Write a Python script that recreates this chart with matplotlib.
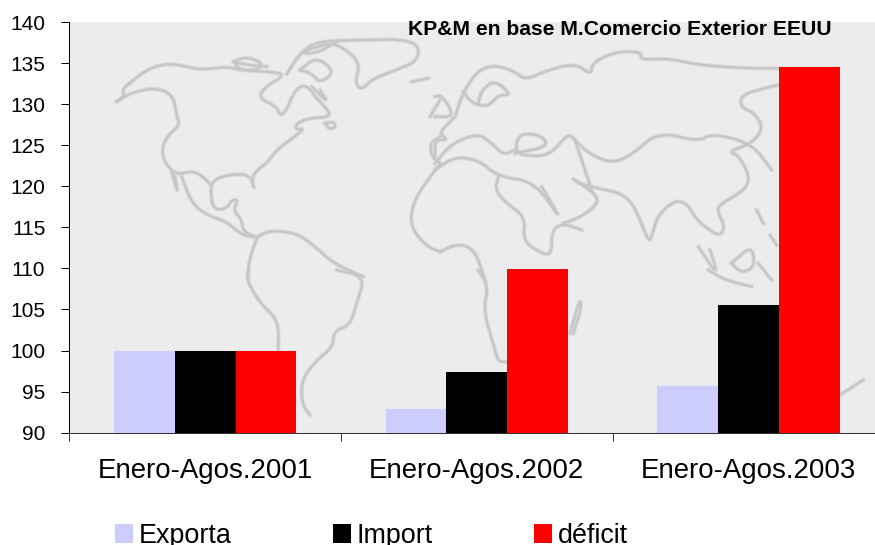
import matplotlib
matplotlib.use('Agg')
import matplotlib.pyplot as plt
import numpy as np
from matplotlib.transforms import Affine2D

categories = ['Enero-Agos.2001', 'Enero-Agos.2002', 'Enero-Agos.2003']
exporta = [100, 92.9, 95.7]
importa = [100, 97.4, 105.6]
deficit = [100, 109.9, 134.5]
y_ticks = list(range(90, 141, 5))

W, H = 875, 545
plt.rcParams['font.family'] = ['Liberation Sans', 'DejaVu Sans']

# background map outlines, traced by eye from 3x crops: (offset x, offset y, points)
map_lines = [
    # north america
    (0, 0, [(350,305),(375,285),(365,270),(400,240),(440,210),(490,192),(540,195),(600,210),(680,200),(720,210),(800,215),(860,222),(790,265),(778,295),(830,320),(840,348),(860,330),(880,280),(905,255),(930,265),(945,290),(975,320),(995,350),(920,355),(885,375),(890,390),(915,385),(870,420),(830,450),(800,490),(765,515),(755,545),(765,570),(750,525),(700,522),(650,535),(632,555),(635,610),(650,630),(680,625),(695,600),(715,600),(700,630),(725,660),(730,695),(770,712)]),
    (0, 0, [(350,305),(390,280),(465,262),(520,285),(530,350),(540,375),(500,410),(485,450),(495,490),(530,525),(575,512),(610,530),(632,555)]),
    (0, 0, [(515,515),(535,585),(525,530)]),
    (0, 0, [(545,530),(575,610),(620,645),(680,665),(725,705),(770,712)]),
    (0, 0, [(700,185),(740,170),(790,190),(770,210),(720,210),(700,185),(745,195),(800,200)]),
    (0, 0, [(860,222),(900,160),(950,125),(1060,120),(1250,118),(1258,180),(1190,210),(1120,235),(1085,270),(1065,250),(1080,190),(1040,150),(1000,130),(950,140),(900,160),(950,160),(1010,125)]),
    (0, 0, [(900,210),(950,170),(1005,215),(960,250),(935,220),(900,210)]),
    (0, 0, [(935,260),(985,310),(960,270)]),
    (0, 0, [(975,370),(1005,365),(1005,385),(985,385),(975,370)]),
    (0, 0, [(1235,245),(1285,235)]),
    (0, 0, [(1290,350),(1320,300)]),
    # south america
    (0, 0, [(745,835),(745,790),(770,712),(790,700),(820,692),(890,700),(940,735),(1000,790),(1090,830)]),
    (0, 270, [(1010,0),(1095,20),(1070,100),(1050,165),(1000,185),(1000,230),(945,275),(905,330),(905,400),(930,435)]),
    (0, 270, [(745,0),(740,30),(780,100),(835,150),(835,240)]),
    # africa
    (0, 0, [(1320,490),(1240,600),(1230,680),(1280,740),(1320,755)]),
    (435, 0, [(15,755),(70,730),(120,750),(150,840)]),
    (435, 270, [(130,0),(160,50),(145,120),(180,240),(190,275),(215,275)]),
    (435, 0, [(190,530),(180,570),(215,610),(270,650),(265,720),(300,750),(350,770),(350,690),(385,670),(440,690)]),
    (435, 270, [(405,190),(435,85),(440,110),(415,190)]),
    # mediterranean, europe
    (435, 0, [(0,510),(60,470),(130,480),(190,530),(300,545),(385,670),(320,560)]),
    (435, 0, [(0,490),(50,430),(130,400),(170,430),(205,465),(240,450)]),
    (435, 0, [(85,275),(110,310),(160,320),(190,285),(230,285),(180,240),(140,270),(130,310)]),
    (435, 0, [(0,290),(20,285),(60,350),(0,350)]),
    (435, 0, [(60,350),(85,275),(130,210),(180,195),(240,215),(270,240),(340,210),(420,190),(470,225),(470,190),(540,155),(620,155),(615,180),(700,175),(790,195),(930,205),(1030,205)]),
    (435, 0, [(60,350),(10,400),(40,420),(0,420),(0,470)]),
    (0, 0, [(1320,410),(1290,430),(1295,470),(1320,490)]),
    # asia
    (435, 0, [(1030,255),(985,265),(920,285),(915,320),(960,340),(985,385),(950,430),(880,455),(910,465),(945,530),(930,570),(860,610),(845,630),(870,680),(855,710),(810,680),(790,665),(740,590),(670,640),(650,710),(640,725),(600,620),(560,580),(490,565),(430,550),(405,530),(480,580),(490,610),(440,650),(385,670)]),
    (435, 0, [(420,420),(460,460),(530,490),(590,465),(670,395),(790,425),(830,400),(950,430),(1010,510)]),
    (435, 0, [(420,420),(400,400),(350,460),(300,470),(240,460),(250,400),(320,405),(340,440),(240,460)]),
    (435, 0, [(420,420),(470,570)]),
    (435, 0, [(790,740),(850,830),(825,750)]),
    (435, 0, [(890,790),(950,735),(960,800),(920,820),(890,790)]),
    (435, 0, [(965,630),(985,670)]),
    (435, 0, [(1005,705),(1025,735)]),
    (435, 0, [(970,790),(1010,840)]),
    (435, 270, [(820,0),(870,30),(950,50)]),
    (435, 270, [(1215,375),(1285,330)]),
]


def round_corners(pts):
    # two passes of corner cutting so the traced outline isn't so angular
    for _ in range(2):
        a, b = pts[:-1], pts[1:]
        mid = np.empty((len(a) * 2, 2))
        mid[0::2] = 0.75 * a + 0.25 * b
        mid[1::2] = 0.25 * a + 0.75 * b
        pts = np.vstack([pts[:1], mid, pts[-1:]])
    return pts


fig = plt.figure(figsize=(W / 100, H / 100), dpi=100)
ax = fig.add_axes([69.3 / W, (H - 432.7) / H, 815 / W, 410.7 / H])
ax.set_facecolor('#ececec')

# map is drawn in image pixels, y going down
to_px = Affine2D().scale(1, -1).translate(0, H)
for ox, oy, pts in map_lines:
    pts = round_corners(np.array(pts) / 3 + [ox, oy])
    ax.plot(pts[:, 0], pts[:, 1], color='#dcdcdc', lw=3.2, transform=to_px, zorder=1)
    ax.plot(pts[:, 0], pts[:, 1], color='#c6c6c6', lw=1.7, transform=to_px, zorder=1.1)

x = np.arange(len(categories))
width = 0.2238
ax.bar(x - width, exporta, width, color='#ccccff', label='Exporta', zorder=2)
ax.bar(x, importa, width, color='black', label='Import', zorder=2)
ax.bar(x + width, deficit, width, color='red', label='déficit', zorder=2)

ax.set_xlim(-0.5, 2.5)
ax.set_ylim(90, 140)
ax.set_yticks(y_ticks)
ax.tick_params(axis='y', labelsize=15, length=5.8, width=0.72, pad=11.5)
ax.set_xticks(x - 0.5)
ax.set_xticklabels([])
ax.set_xticks(x, labels=categories, minor=True)
ax.tick_params(axis='x', which='major', length=5.8, width=0.72, color='#333333')
ax.tick_params(axis='x', which='minor', length=0, labelsize=19.9, pad=18)
for s in ['top', 'right']:
    ax.spines[s].set_visible(False)
ax.spines['left'].set_linewidth(0.72)
ax.spines['bottom'].set_linewidth(0.72)
ax.spines['bottom'].set_color('#333333')

fig.text(619.5 / W, (H - 35) / H, 'KP&M en base M.Comercio Exterior EEUU', fontsize=15.2,
         fontweight='bold', ha='center', va='baseline')

fig.legend(loc='lower left', bbox_to_anchor=(115 / W, -4 / H), ncol=3, frameon=False, fontsize=19.4,
           borderpad=0, borderaxespad=0, handlelength=0.67, handleheight=0.67,
           handletextpad=0.22, columnspacing=3.75)

fig.savefig('out.png', dpi=100)
